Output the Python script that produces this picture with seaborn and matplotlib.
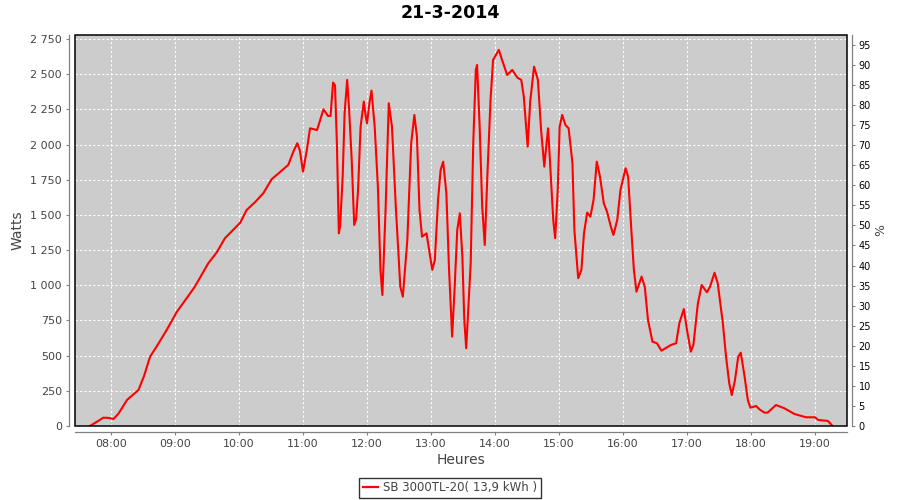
import matplotlib
matplotlib.use("Agg")
import matplotlib.pyplot as plt
import seaborn as sns
from matplotlib.patches import Rectangle
from matplotlib.lines import Line2D

# ---- data ----
hours = [7.67, 7.78, 7.88, 7.95, 8.04, 8.12, 8.25, 8.43, 8.52, 8.61, 8.72, 8.87, 9.03, 9.17,
         9.31, 9.52, 9.65, 9.78, 9.90, 10.02, 10.12, 10.25, 10.38, 10.51, 10.62, 10.77, 10.85,
         10.91, 10.95, 11.00, 11.06, 11.11, 11.22, 11.32, 11.39, 11.43, 11.47, 11.50, 11.53,
         11.56, 11.58, 11.62, 11.65, 11.69, 11.72, 11.76, 11.80, 11.83, 11.86, 11.90, 11.95,
         11.98, 12.00, 12.04, 12.07, 12.12, 12.17, 12.21, 12.24, 12.29, 12.34, 12.39, 12.45,
         12.52, 12.56, 12.63, 12.69, 12.74, 12.78, 12.82, 12.86, 12.93, 12.97, 13.02, 13.06,
         13.11, 13.15, 13.19, 13.24, 13.28, 13.33, 13.37, 13.41, 13.45, 13.49, 13.52, 13.55,
         13.62, 13.66, 13.70, 13.72, 13.76, 13.80, 13.84, 13.88, 13.93, 13.97, 14.06, 14.11,
         14.19, 14.27, 14.35, 14.41, 14.45, 14.51, 14.55, 14.61, 14.67, 14.72, 14.77, 14.81,
         14.83, 14.87, 14.91, 14.94, 14.98, 15.01, 15.05, 15.10, 15.15, 15.21, 15.24, 15.30,
         15.35, 15.39, 15.44, 15.49, 15.54, 15.59, 15.64, 15.70, 15.75, 15.81, 15.85, 15.91,
         15.96, 16.04, 16.08, 16.13, 16.17, 16.21, 16.29, 16.34, 16.39, 16.46, 16.53, 16.60,
         16.75, 16.83, 16.88, 16.95, 17.00, 17.06, 17.10, 17.17, 17.23, 17.31, 17.36, 17.43,
         17.48, 17.56, 17.61, 17.66, 17.70, 17.75, 17.80, 17.84, 17.90, 17.95, 17.99, 18.08,
         18.13, 18.21, 18.26, 18.39, 18.52, 18.68, 18.86, 19.00, 19.05, 19.20, 19.26]
watts = [0, 30, 59, 58, 50, 90, 185, 256, 360, 492, 570, 682, 812, 900,
         990, 1156, 1232, 1334, 1390, 1445, 1535, 1590, 1654, 1753, 1796, 1855, 1950,
         2009, 1960, 1807, 1961, 2115, 2103, 2250, 2203, 2203, 2440, 2420, 2000,
         1369, 1420, 1772, 2222, 2459, 2250, 1900, 1428, 1470, 1677, 2127, 2305,
         2200, 2151, 2300, 2383, 2127, 1700, 1109, 931, 1535, 2293, 2127, 1558,
         990, 919, 1322, 2009, 2210, 2056, 1535, 1345, 1369, 1251, 1109, 1180,
         1606, 1819, 1878, 1654, 1132, 635, 990, 1393, 1511, 1203, 753, 552,
         1156, 2009, 2530, 2565, 2127, 1558, 1286, 1772, 2317, 2601, 2672, 2601,
         2494, 2530, 2475, 2459, 2340, 1985, 2305, 2553, 2459, 2103, 1843, 2033,
         2115, 1796, 1464, 1334, 1677, 2127, 2210, 2139, 2115, 1867, 1393, 1050,
         1109, 1369, 1516, 1487, 1606, 1878, 1772, 1582, 1523, 1416, 1357, 1464,
         1677, 1831, 1772, 1393, 1109, 954, 1061, 990, 753, 599, 588, 535,
         576, 588, 730, 831, 682, 528, 576, 872, 1002, 950, 990, 1089,
         1014, 730, 492, 303, 220, 327, 492, 521, 350, 185, 130, 142,
         119, 95, 95, 149, 126, 85, 62, 62, 43, 36, 7]

hour_ticks = [8, 9, 10, 11, 12, 13, 14, 15, 16, 17, 18, 19]
hour_labels = ["08:00", "09:00", "10:00", "11:00", "12:00", "13:00", "14:00",
               "15:00", "16:00", "17:00", "18:00", "19:00"]
watt_ticks = [0, 250, 500, 750, 1000, 1250, 1500, 1750, 2000, 2250, 2500, 2750]
pct_ticks = list(range(0, 100, 5))
title = "21-3-2014"
series_name = "SB 3000TL-20( 13,9 kWh )"
nominal_power = 2850  # W corresponding to 100 %

# ---- figure ----
fig = plt.figure(figsize=(9, 5), dpi=100)
fig.patch.set_facecolor("white")
ax = fig.add_axes([75 / 900, 74 / 500, 771.7 / 900, 391 / 500])
ax.set_facecolor("#CCCCCC")

sns.lineplot(x=hours, y=watts, ax=ax, color="#FF0000", linewidth=1.5, zorder=3)

ymax = 2778
ax.set_xlim(7.4375, 19.495)
ax.set_ylim(0, ymax)

ax.set_xticks(hour_ticks)
ax.set_xticklabels(hour_labels)
ax.set_yticks(watt_ticks)
ax.set_yticklabels([f"{v:,}".replace(",", " ") for v in watt_ticks])

gray = "#444444"
ax.tick_params(axis="both", direction="out", length=2.5, width=0.8, color="#808080",
               labelsize=8, labelcolor=gray, pad=3)
ax.grid(True, color="white", linestyle=(0, (2, 2)), linewidth=0.8)
ax.set_axisbelow(True)

for s in ["top", "right"]:
    ax.spines[s].set_visible(False)
for s in ["left", "bottom"]:
    ax.spines[s].set_position(("outward", 4))
    ax.spines[s].set_color("#808080")
    ax.spines[s].set_linewidth(0.9)

ax.set_xlabel("Heures", fontsize=10, color=gray, labelpad=3)
ax.set_ylabel("Watts", fontsize=10, color=gray, labelpad=4)

# right axis in percent
ax2 = ax.twinx()
ax2.set_ylim(0, ymax / nominal_power * 100)
ax2.set_yticks(pct_ticks)
ax2.set_yticklabels([str(p) for p in pct_ticks])
ax2.tick_params(axis="y", direction="out", length=2.5, width=0.8, color="#808080",
                labelsize=7, labelcolor="black", pad=2)
for s in ["top", "left", "bottom"]:
    ax2.spines[s].set_visible(False)
ax2.spines["right"].set_position(("outward", 4))
ax2.spines["right"].set_color("#808080")
ax2.spines["right"].set_linewidth(0.9)
ax2.set_ylabel("%", fontsize=9, color=gray, labelpad=2)

# black plot frame
ax2.add_patch(Rectangle((0, 0), 1, 1, transform=ax.transAxes, fill=False,
                        edgecolor="black", linewidth=1.1, clip_on=False, zorder=10))

fig.text(0.5, 1 - 13 / 500, title, ha="center", va="center",
         fontsize=12.5, fontweight="bold", color="black")

handle = Line2D([], [], color="#FF0000", linewidth=1.6)
leg = fig.legend([handle], [series_name], loc="center",
                 bbox_to_anchor=(450 / 900, 1 - 488 / 500), frameon=True,
                 fancybox=False, fontsize=8.5, handlelength=1.3, handletextpad=0.4,
                 borderpad=0.3, borderaxespad=0)
leg.get_frame().set_edgecolor("black")
leg.get_frame().set_linewidth(1.0)
for t in leg.get_texts():
    t.set_color(gray)

fig.savefig("out.png", dpi=100)
